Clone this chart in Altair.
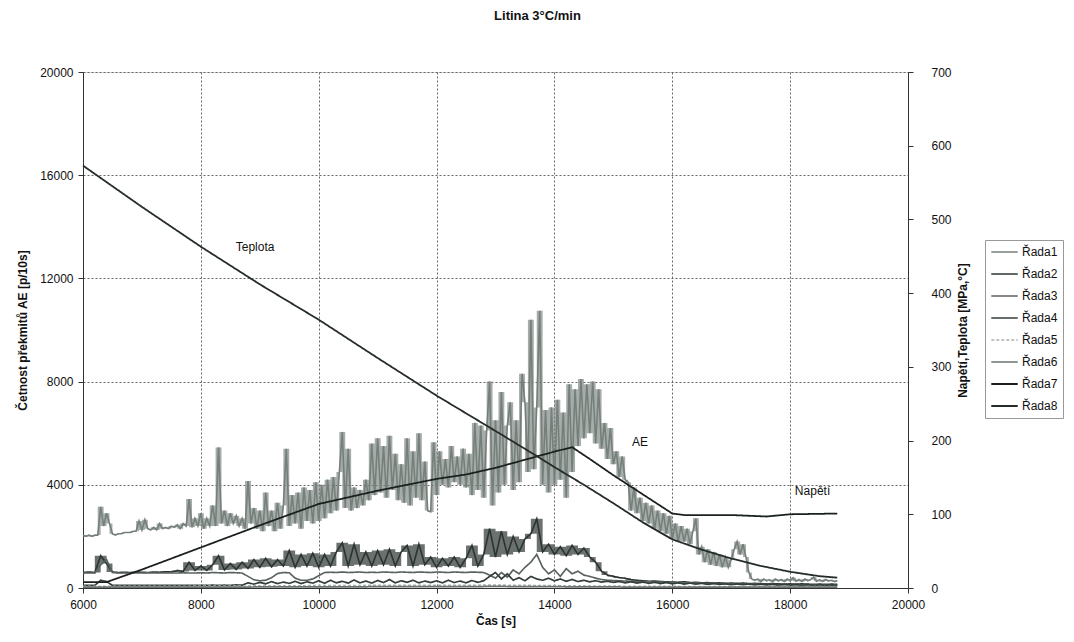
import altair as alt
import pandas as pd

# ---------------- data ----------------
names = ["Řada1", "Řada2", "Řada3", "Řada4", "Řada5", "Řada6", "Řada7", "Řada8"]

# Řada1 : main AE count rate, every 50 s from 6000 s to 18800 s
t50 = list(range(6000, 18801, 50))
ae1 = [
    2050, 2000, 2050, 2000, 2050, 2050, 3150, 2400, 2900, 2500, 2100, 2050, 2100, 2100, 2150, 2150, 2150, 2200, 2200, 2600,
    2250, 2650, 2300, 2250, 2350, 2250, 2500, 2300, 2350, 2300, 2400, 2350, 2450, 2300, 2500, 2400, 3450, 2350, 2700, 2400,
    2900, 2300, 2700, 2400, 3200, 2400, 5450, 2500, 3000, 2400, 2900, 2500, 2800, 2400, 2700, 2300, 4150, 2500, 3100, 2300,
    3000, 2200, 3700, 2400, 3000, 2200, 3300, 2300, 3200, 5400, 2400, 3600, 2500, 3700, 2300, 3900, 2600, 3800, 2500, 4100,
    2600, 4000, 2700, 4200, 2900, 4300, 3000, 4500, 6050, 3100, 5400, 3000, 3900, 3100, 3800, 3200, 4200, 3400, 5600, 3600,
    5800, 3700, 5500, 3500, 5900, 3800, 5200, 3400, 4800, 3300, 5800, 3200, 5300, 3500, 6000, 3400, 4900, 3000, 2950, 5650,
    3600, 5300, 4000, 5000, 3900, 5500, 4100, 5100, 4000, 5400, 3900, 5200, 3600, 6400, 3800, 6300, 3500, 6100, 8000, 3200,
    6500, 3700, 7600, 4000, 6300, 7200, 3800, 6500, 4100, 8300, 7200, 4500, 10400, 4600, 7000, 10750, 4000, 6900, 3700, 7000,
    4000, 7300, 4200, 6800, 3500, 7900, 4500, 7700, 5500, 8100, 5800, 7900, 6000, 8000, 5600, 7700, 5400, 6400, 5000, 6200,
    4800, 5300, 4300, 5100, 4200, 4100, 3000, 3900, 2900, 3500, 2600, 3300, 2500, 3200, 2300, 3000, 2200, 2900, 2100, 2800,
    1900, 2500, 1800, 2400, 1800, 2300, 1700, 2200, 2700, 1300, 1600, 1000, 1500, 900, 1400, 850, 1300, 800, 1200, 800,
    1100, 1500, 1800, 1300, 1700, 1200, 600, 350, 300, 350, 250, 350, 280, 320, 250, 350, 270, 330, 250, 350,
    280, 400, 260, 330, 250, 350, 280, 330, 420, 260, 320, 250, 330, 270, 300, 250, 280,
]

# Řada2..Řada4 : lower AE channels, every 100 s
t100 = list(range(6000, 18801, 100))
ae2 = [
    600, 620, 600, 1250, 950, 620, 600, 610, 600, 620,
    610, 600, 620, 610, 630, 620, 680, 640, 1000, 680,
    850, 680, 900, 1250, 700, 950, 720, 1000, 760, 1100,
    800, 1150, 820, 1100, 850, 1450, 800, 1300, 850, 1350,
    800, 1300, 850, 1400, 1750, 850, 1700, 900, 1400, 850,
    1450, 900, 1500, 850, 1400, 1650, 850, 1700, 900, 1200,
    800, 1150, 850, 1200, 800, 1150, 1650, 850, 1300, 2300,
    1200, 2200, 1300, 2000, 1400, 1900, 2100, 2680, 1400, 1700,
    1300, 1600, 1250, 1650, 1300, 1550, 1200, 1000, 650, 500,
    450, 400, 380, 320, 300, 280, 260, 270, 250, 240,
    230, 220, 240, 210, 220, 200, 210, 190, 200, 180,
    190, 180, 190, 170, 180, 170, 160, 170, 160, 150,
    160, 150, 160, 150, 140, 150, 140, 150, 140,
]
ae3 = [
    580, 580, 580, 900, 1100, 600, 580, 580, 580, 580,
    580, 590, 580, 580, 590, 580, 580, 590, 580, 580,
    590, 580, 600, 590, 580, 600, 590, 580, 450, 320,
    280, 300, 400, 560, 600, 590, 380, 300, 300, 350,
    480, 600, 610, 600, 620, 600, 610, 620, 600, 610,
    600, 620, 610, 600, 620, 610, 600, 620, 610, 600,
    620, 610, 600, 620, 610, 600, 620, 610, 600, 500,
    380, 600, 420, 700, 550, 800, 1000, 1300, 800, 550,
    700, 450, 750, 550, 650, 500, 450, 380, 330, 300,
    290, 280, 270, 260, 250, 250, 240, 230, 230, 220,
    220, 210, 200, 200, 190, 190, 180, 180, 170, 170,
    160, 160, 150, 150, 150, 140, 140, 140, 130, 130,
    130, 130, 120, 120, 120, 120, 110, 110, 110,
]
ae4 = [
    100, 100, 100, 300, 250, 100, 100, 100, 100, 100,
    100, 100, 100, 100, 100, 100, 100, 100, 100, 100,
    100, 100, 110, 100, 110, 100, 120, 110, 200, 150,
    220, 160, 250, 170, 230, 180, 260, 170, 240, 190,
    280, 180, 300, 200, 260, 190, 310, 200, 270, 190,
    290, 210, 330, 200, 280, 220, 300, 200, 270, 210,
    280, 200, 300, 210, 270, 200, 290, 220, 280, 450,
    600, 350, 550, 300, 400, 280, 450, 350, 300, 380,
    280, 350, 260, 330, 250, 300, 240, 280, 230, 260,
    220, 250, 200, 240, 190, 230, 180, 220, 170, 210,
    160, 200, 150, 190, 150, 180, 140, 170, 140, 160,
    130, 160, 130, 150, 120, 150, 120, 140, 110, 140,
    110, 130, 100, 130, 100, 120, 100, 120, 100,
]

# Řada5, Řada6 : near-zero channels
t_small = [6000, 7000, 8000, 9000, 10000, 11000, 12000, 13000, 14000, 15000, 16000, 17000, 18000, 18800]
ae5 = [60, 60, 70, 80, 90, 100, 100, 110, 90, 70, 60, 50, 50, 50]
ae6 = [30, 30, 30, 40, 40, 50, 50, 60, 50, 40, 30, 30, 30, 30]

# Řada7 : Napětí [MPa] (right axis)
t_stress = [6000, 6400, 7000, 8000, 9000, 10000, 11000, 12000, 12500, 13000, 13500, 14000,
            14300, 14600, 15000, 15500, 16000, 16200, 17000, 17600, 18000, 18800]
stress = [8, 8, 25, 55, 85, 114, 132, 148, 154, 163, 174, 185,
          191, 175, 153, 127, 101, 99, 99, 97, 100, 101]

# Řada8 : Teplota [°C] (right axis)
t_temp = [6000, 7000, 8000, 9000, 10000, 11000, 12000, 13000, 13700, 14000,
          14500, 15000, 15500, 16000, 16500, 17000, 17500, 18000, 18500, 18800]
temp = [573, 517, 463, 412, 364, 312, 261, 213, 179, 164,
        140, 115, 89, 66, 52, 40, 30, 22, 16, 14]

# annotations
ann_text = ["Teplota", "AE", "Napětí"]
ann_t = [8920, 15450, 18380]
ann_v = [13230, 5660, 3760]

x_ticks = [6000, 8000, 10000, 12000, 14000, 16000, 18000, 20000]
y_left_ticks = [0, 4000, 8000, 12000, 16000, 20000]
y_right_ticks = [0, 100, 200, 300, 400, 500, 600, 700]

colors = ["#76807b", "#2c3530", "#59635e", "#343d39", "#a9b1ad", "#6a746f", "#1a201d", "#252d29"]
widths = [1.6, 1.8, 1.6, 1.6, 1.2, 1.5, 2.6, 2.6]
dashes = [[1, 0], [1, 0], [1, 0], [1, 0], [3, 2], [1, 0], [1, 0], [1, 0]]

# ---------------- tables ----------------
left_rows = []
for s, ts, vs in [("Řada1", t50, ae1), ("Řada2", t100, ae2), ("Řada3", t100, ae3),
                  ("Řada4", t100, ae4), ("Řada5", t_small, ae5), ("Řada6", t_small, ae6)]:
    for t, v in zip(ts, vs):
        left_rows.append({"t": t, "v": v, "s": s})
right_rows = []
for s, ts, vs in [("Řada7", t_stress, stress), ("Řada8", t_temp, temp)]:
    for t, v in zip(ts, vs):
        right_rows.append({"t": t, "v": v, "s": s})
df_left = pd.DataFrame(left_rows)
df_right = pd.DataFrame(right_rows)
df_ann = pd.DataFrame({"t": ann_t, "v": ann_v, "txt": ann_text})

FONT = "Liberation Sans"

leg = dict(orient="none", legendX=902, legendY=168, title=None, symbolType="stroke",
           symbolSize=700, clipHeight=14, labelFontSize=12, labelFont=FONT, labelColor="#111",
           strokeColor="#999", padding=5, rowPadding=8, labelOffset=3)

color_enc = alt.Color("s:N", scale=alt.Scale(domain=names, range=colors), legend=alt.Legend(**leg))
width_enc = alt.StrokeWidth("s:N", scale=alt.Scale(domain=names, range=widths), legend=alt.Legend(**leg))
dash_enc = alt.StrokeDash("s:N", scale=alt.Scale(domain=names, range=dashes), legend=alt.Legend(**leg))

x_enc = alt.X("t:Q", scale=alt.Scale(domain=[6000, 20000], nice=False),
              axis=alt.Axis(values=x_ticks, format="d", title="Čas [s]", grid=True,
                            gridDash=[2, 2], gridColor="#666", gridOpacity=1,
                            domainColor="#333", tickColor="#333", tickSize=5,
                            labelFlush=False,
                            labelFont=FONT, labelFontSize=12, labelColor="#111",
                            labelPadding=6, titleFont=FONT, titleFontSize=12,
                            titleFontWeight="bold", titleColor="#111", titlePadding=5))

y_hidden = alt.Scale(domain=[0, 20000], nice=False)


def band(series, colour, op):
    # fill between neighbouring readings, imitating the dense 10 s record
    return alt.Chart(df_left).transform_filter(alt.datum.s == series).transform_window(
        lo="min(v)", hi="max(v)", frame=[0, 1], sort=[alt.SortField("t")]
    ).mark_area(color=colour, opacity=op, interpolate="step-after").encode(
        x=x_enc,
        y=alt.Y("lo:Q", scale=y_hidden, axis=None),
        y2="hi:Q",
    )


band1 = band("Řada1", colors[0], 0.65)
band2 = band("Řada2", colors[1], 0.7)

left = alt.Chart(df_left).mark_line(interpolate="linear", strokeJoin="miter").encode(
    x=x_enc,
    y=alt.Y("v:Q", scale=alt.Scale(domain=[0, 20000], nice=False),
            axis=alt.Axis(values=y_left_ticks, format="d", title="Četnost překmitů AE [p/10s]",
                          grid=True, gridDash=[2, 2], gridColor="#666", gridOpacity=1,
                          domainColor="#333", tickColor="#333", tickSize=5,
                          labelFont=FONT, labelFontSize=12, labelColor="#111", labelPadding=5,
                          titleFont=FONT, titleFontSize=12, titleFontWeight="bold",
                          titleColor="#111", titlePadding=10)),
    color=color_enc, strokeWidth=width_enc, strokeDash=dash_enc,
)

right = alt.Chart(df_right).mark_line(interpolate="linear").encode(
    x=x_enc,
    y=alt.Y("v:Q", scale=alt.Scale(domain=[0, 700], nice=False),
            axis=alt.Axis(orient="right", values=y_right_ticks, format="d",
                          title="Napětí,Teplota [MPa,°C]", grid=False,
                          domainColor="#333", tickColor="#333", tickSize=5,
                          labelFont=FONT, labelFontSize=12, labelColor="#111", labelPadding=18,
                          titleFont=FONT, titleFontSize=12, titleFontWeight="bold",
                          titleColor="#111", titlePadding=6, titleAngle=270,
                          titleBaseline="top")),
    color=color_enc, strokeWidth=width_enc, strokeDash=dash_enc,
)

ann = alt.Chart(df_ann).mark_text(font=FONT, fontSize=12, color="#111", align="center", baseline="middle").encode(
    x=x_enc,
    y=alt.Y("v:Q", scale=y_hidden, axis=None),
    text="txt:N",
)

chart = alt.layer(band1, band2, left, right, ann).resolve_scale(y="independent").properties(
    width=825, height=516,
    autosize=alt.AutoSizeParams(type="none"),
    padding={"left": 75, "top": 64, "right": 156, "bottom": 44},
    title=alt.TitleParams("Litina 3°C/min", font=FONT, fontSize=13, fontWeight="bold",
                          color="#111", anchor="middle", dx=42, offset=43),
).configure_view(stroke=None).configure(background="white")

chart.save("out.html", embed_options={"renderer": "svg", "actions": False})
